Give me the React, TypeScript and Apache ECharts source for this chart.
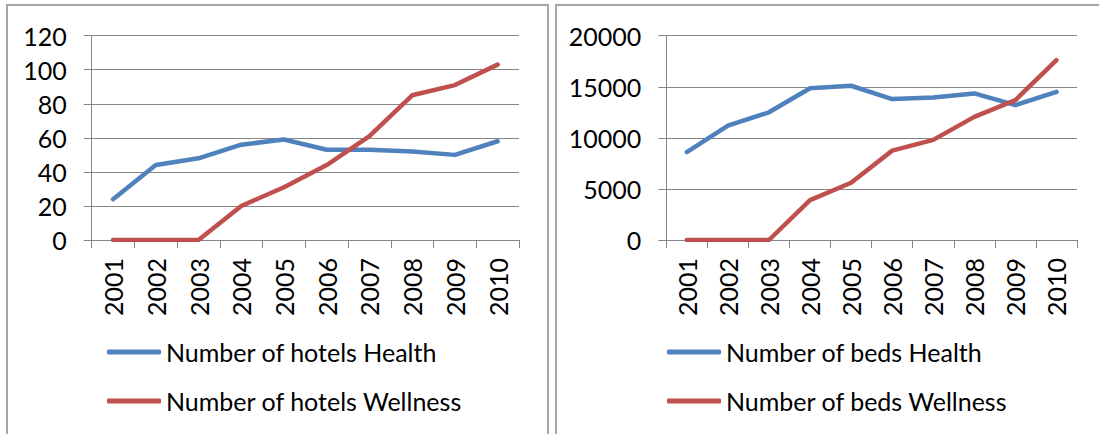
import React, { useEffect, useRef } from "react";
import * as echarts from "echarts";

const years = ["2001", "2002", "2003", "2004", "2005", "2006", "2007", "2008", "2009", "2010"];
const hotelsHealth = [24, 44, 48, 56, 59, 53, 53, 52, 50, 58];
const hotelsWellness = [0, 0, 0, 20, 31, 44, 61, 85, 91, 103];
const bedsHealth = [8600, 11200, 12500, 14850, 15100, 13800, 13950, 14350, 13200, 14500];
const bedsWellness = [0, 0, 0, 3900, 5600, 8750, 9800, 12050, 13700, 17600];
const hotelsTicks = { min: 0, max: 120, interval: 20 };
const bedsTicks = { min: 0, max: 20000, interval: 5000 };
const seriesNames = [
  "Number of hotels Health",
  "Number of hotels Wellness",
  "Number of beds Health",
  "Number of beds Wellness",
];

const BLUE = "#4F81BD";
const RED = "#C0504D";
const GRID = "#868686";
const FONT = "Lato";
const FS = 25;

export default function App() {
  const ref = useRef<HTMLDivElement>(null);
  useEffect(() => {
    if (!ref.current) return;
    const chart = echarts.init(ref.current, undefined, { renderer: "svg" });
    const xAxisBase = (gridIndex: number) => ({
      type: "category",
      gridIndex,
      data: years,
      boundaryGap: true,
      axisLine: { show: true, lineStyle: { color: GRID, width: 1 } },
      axisTick: { show: true, length: 8, alignWithLabel: false, lineStyle: { color: GRID } },
      axisLabel: { rotate: 90, margin: 18, color: "#000", fontFamily: FONT, fontSize: FS, interval: 0 },
      splitLine: { show: false },
    });
    const yAxisBase = (gridIndex: number, t: { min: number; max: number; interval: number }) => ({
      type: "value",
      gridIndex,
      min: t.min,
      max: t.max,
      interval: t.interval,
      axisLine: { show: true, lineStyle: { color: GRID, width: 1 } },
      axisTick: { show: true, length: 8, lineStyle: { color: GRID } },
      axisLabel: {
        margin: 25,
        color: "#000",
        fontFamily: FONT,
        fontSize: FS,
        formatter: (v: number) => String(v),
      },
      splitLine: { show: true, lineStyle: { color: GRID, width: 1 } },
    });
    const lineSeries = (name: string, data: number[], color: string, idx: number) => ({
      type: "line",
      name,
      data,
      xAxisIndex: idx,
      yAxisIndex: idx,
      symbol: "none",
      color,
      lineStyle: { color, width: 4.5, cap: "round", join: "round" },
    });
    const legendBase = (left: number, data: string[]) => ({
      left,
      top: 337,
      orient: "vertical",
      padding: 0,
      itemWidth: 54,
      itemHeight: 5,
      itemGap: 19,
      icon: "roundRect",
      data,
      selectedMode: false,
      textStyle: { fontFamily: FONT, fontSize: FS, color: "#000", lineHeight: 30 },
    });
    chart.setOption({
      animation: false,
      backgroundColor: "#fff",
      graphic: [
        {
          type: "rect",
          shape: { x: 7, y: 5, width: 541, height: 440 },
          style: { fill: "none", stroke: "#a6a6a6", lineWidth: 2 },
          silent: true,
        },
        {
          type: "rect",
          shape: { x: 556, y: 5, width: 560, height: 440 },
          style: { fill: "none", stroke: "#a6a6a6", lineWidth: 2 },
          silent: true,
        },
      ],
      grid: [
        { left: 91.7, top: 35.7, width: 427.3, height: 204.3, containLabel: false },
        { left: 666.3, top: 35.7, width: 410.7, height: 204.3, containLabel: false },
      ],
      xAxis: [xAxisBase(0), xAxisBase(1)],
      yAxis: [yAxisBase(0, hotelsTicks), yAxisBase(1, bedsTicks)],
      legend: [
        legendBase(107, [seriesNames[0], seriesNames[1]]),
        legendBase(667, [seriesNames[2], seriesNames[3]]),
      ],
      series: [
        lineSeries(seriesNames[0], hotelsHealth, BLUE, 0),
        lineSeries(seriesNames[1], hotelsWellness, RED, 0),
        lineSeries(seriesNames[2], bedsHealth, BLUE, 1),
        lineSeries(seriesNames[3], bedsWellness, RED, 1),
      ],
    });
    return () => chart.dispose();
  }, []);
  return (
    <div
      ref={ref}
      style={{ position: "fixed", left: 0, top: 0, width: 1099, height: 434, background: "#fff" }}
    />
  );
}
